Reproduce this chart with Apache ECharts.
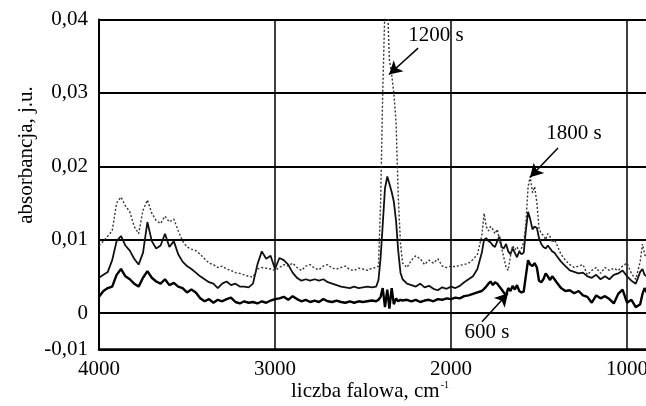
<!DOCTYPE html>
<html>
<head>
<meta charset="utf-8">
<script src="https://cdn.jsdelivr.net/npm/echarts@6/dist/echarts.min.js"></script>
<style>
  html, body { margin: 0; padding: 0; background: #fff; }
  #chart { width: 646px; height: 406px; }
</style>
</head>
<body>
<div id="chart"></div>
<script>
// Wavenumber grid (cm-1), shared by all three spectra
const wavenumbers = [
  4000, 3975, 3950, 3925, 3900, 3875, 3850, 3825, 3800, 3775,
  3750, 3725, 3700, 3675, 3650, 3625, 3600, 3575, 3550, 3525,
  3500, 3475, 3450, 3425, 3400, 3375, 3350, 3325, 3300, 3275,
  3250, 3225, 3200, 3175, 3150, 3125, 3100, 3075, 3050, 3025,
  3000, 2975, 2950, 2925, 2900, 2875, 2850, 2825, 2800, 2775,
  2750, 2725, 2700, 2675, 2650, 2625, 2600, 2575, 2550, 2525,
  2500, 2475, 2450, 2425, 2412, 2400, 2388, 2375, 2362, 2350,
  2337, 2325, 2312, 2300, 2287, 2275, 2250, 2225, 2200, 2175,
  2150, 2125, 2100, 2075, 2050, 2025, 2000, 1975, 1950, 1925,
  1900, 1875, 1850, 1825, 1812, 1800, 1787, 1775, 1762, 1750,
  1737, 1725, 1712, 1700, 1687, 1675, 1662, 1650, 1637, 1625,
  1612, 1600, 1587, 1575, 1562, 1550, 1537, 1525, 1512, 1500,
  1487, 1475, 1462, 1450, 1437, 1425, 1412, 1400, 1375, 1350,
  1325, 1300, 1275, 1250, 1225, 1200, 1175, 1150, 1125, 1100,
  1075, 1050, 1025, 1000, 975, 950, 925, 912, 900, 875, 850
];

// Absorbance after 600 s (lowest trace)
const abs600 = [
  0.0022, 0.0030, 0.0034, 0.0036, 0.0052, 0.0060, 0.0050, 0.0046, 0.0040, 0.0036,
  0.0048, 0.0057, 0.0048, 0.0043, 0.0040, 0.0046, 0.0038, 0.0041, 0.0036, 0.0034,
  0.0028, 0.0032, 0.0028, 0.0020, 0.0016, 0.0019, 0.0014, 0.0018, 0.0016, 0.0019,
  0.0021, 0.0015, 0.0013, 0.0016, 0.0014, 0.0015, 0.0013, 0.0016, 0.0014, 0.0017,
  0.0019, 0.0020, 0.0022, 0.0018, 0.0023, 0.0019, 0.0016, 0.0018, 0.0015, 0.0017,
  0.0015, 0.0019, 0.0016, 0.0015, 0.0017, 0.0015, 0.0014, 0.0016, 0.0014, 0.0016,
  0.0015, 0.0016, 0.0017, 0.0016, 0.0018, 0.0022, 0.0034, 0.0008, 0.0032, 0.0006,
  0.0034, 0.0012, 0.0020, 0.0016, 0.0018, 0.0017, 0.0018, 0.0016, 0.0018, 0.0015,
  0.0017, 0.0018, 0.0016, 0.0019, 0.0018, 0.0020, 0.0019, 0.0021, 0.0020, 0.0023,
  0.0024, 0.0026, 0.0028, 0.0030, 0.0033, 0.0036, 0.0040, 0.0043, 0.0038, 0.0042,
  0.0040, 0.0036, 0.0032, 0.0028, 0.0024, 0.0034, 0.0030, 0.0037, 0.0032, 0.0038,
  0.0030, 0.0028, 0.0029, 0.0050, 0.0072, 0.0066, 0.0064, 0.0068, 0.0062, 0.0044,
  0.0042, 0.0046, 0.0054, 0.0050, 0.0045, 0.0050, 0.0046, 0.0042, 0.0034, 0.0030,
  0.0031, 0.0027, 0.0030, 0.0024, 0.0022, 0.0014, 0.0024, 0.0020, 0.0023, 0.0019,
  0.0013, 0.0026, 0.0032, 0.0014, 0.0018, 0.0008, 0.0012, 0.0026, 0.0034, 0.0022, 0.0018
];

// Absorbance after 1200 s (dotted trace with the strong 2350 cm-1 band)
const abs1200 = [
  0.0092, 0.0098, 0.0105, 0.0112, 0.0150, 0.0158, 0.0146, 0.0138, 0.0118, 0.0108,
  0.0140, 0.0154, 0.0136, 0.0126, 0.0122, 0.0132, 0.0124, 0.0128, 0.0112, 0.0098,
  0.0090, 0.0087, 0.0085, 0.0080, 0.0074, 0.0068, 0.0066, 0.0062, 0.0064, 0.0060,
  0.0058, 0.0055, 0.0054, 0.0052, 0.0050, 0.0049, 0.0060, 0.0062, 0.0061, 0.0060,
  0.0058, 0.0062, 0.0066, 0.0064, 0.0068, 0.0062, 0.0058, 0.0064, 0.0066, 0.0061,
  0.0059, 0.0064, 0.0066, 0.0061, 0.0060, 0.0062, 0.0064, 0.0059, 0.0058, 0.0061,
  0.0060, 0.0058, 0.0061, 0.0062, 0.0064, 0.0150, 0.0300, 0.0420, 0.0430, 0.0345,
  0.0325, 0.0300, 0.0260, 0.0160, 0.0095, 0.0068, 0.0062, 0.0072, 0.0078, 0.0074,
  0.0066, 0.0072, 0.0068, 0.0074, 0.0064, 0.0062, 0.0064, 0.0063, 0.0065, 0.0066,
  0.0068, 0.0073, 0.0080, 0.0105, 0.0136, 0.0118, 0.0112, 0.0118, 0.0114, 0.0108,
  0.0114, 0.0100, 0.0088, 0.0076, 0.0062, 0.0058, 0.0078, 0.0092, 0.0086, 0.0090,
  0.0084, 0.0088, 0.0096, 0.0120, 0.0172, 0.0186, 0.0164, 0.0172, 0.0150, 0.0116,
  0.0108, 0.0106, 0.0100, 0.0108, 0.0104, 0.0096, 0.0100, 0.0094, 0.0080, 0.0072,
  0.0066, 0.0062, 0.0064, 0.0066, 0.0052, 0.0058, 0.0062, 0.0054, 0.0062, 0.0058,
  0.0061, 0.0058, 0.0064, 0.0068, 0.0054, 0.0046, 0.0070, 0.0094, 0.0080, 0.0070, 0.0066
];

// Absorbance after 1800 s (middle solid trace)
const abs1800 = [
  0.0048, 0.0052, 0.0056, 0.0072, 0.0098, 0.0105, 0.0092, 0.0085, 0.0074, 0.0066,
  0.0082, 0.0124, 0.0098, 0.0088, 0.0092, 0.0108, 0.0090, 0.0098, 0.0080, 0.0070,
  0.0064, 0.0060, 0.0055, 0.0050, 0.0046, 0.0042, 0.0040, 0.0034, 0.0040, 0.0043,
  0.0038, 0.0040, 0.0036, 0.0036, 0.0035, 0.0040, 0.0066, 0.0084, 0.0074, 0.0078,
  0.0060, 0.0075, 0.0072, 0.0066, 0.0055, 0.0048, 0.0044, 0.0046, 0.0044, 0.0046,
  0.0044, 0.0046, 0.0042, 0.0040, 0.0038, 0.0036, 0.0035, 0.0034, 0.0036, 0.0034,
  0.0035, 0.0036, 0.0035, 0.0036, 0.0045, 0.0075, 0.0120, 0.0170, 0.0186, 0.0176,
  0.0165, 0.0152, 0.0125, 0.0085, 0.0055, 0.0046, 0.0040, 0.0038, 0.0036, 0.0040,
  0.0035, 0.0037, 0.0033, 0.0031, 0.0035, 0.0033, 0.0036, 0.0034, 0.0037, 0.0042,
  0.0046, 0.0050, 0.0060, 0.0082, 0.0100, 0.0102, 0.0098, 0.0096, 0.0092, 0.0090,
  0.0098, 0.0104, 0.0090, 0.0088, 0.0094, 0.0084, 0.0080, 0.0088, 0.0082, 0.0076,
  0.0084, 0.0080, 0.0082, 0.0112, 0.0138, 0.0128, 0.0114, 0.0118, 0.0116, 0.0102,
  0.0094, 0.0090, 0.0088, 0.0092, 0.0088, 0.0084, 0.0082, 0.0078, 0.0070, 0.0064,
  0.0058, 0.0056, 0.0054, 0.0055, 0.0050, 0.0048, 0.0052, 0.0046, 0.0050, 0.0046,
  0.0052, 0.0054, 0.0058, 0.0050, 0.0044, 0.0040, 0.0056, 0.0060, 0.0052, 0.0048, 0.0046
];

// Axis ranges, tick positions and printed tick labels
const xMin = 892;
const xMax = 4000;
const xTickValues = [1000, 2000, 3000, 4000];
const yTickValues = [-0.005, 0, 0.01, 0.02, 0.03, 0.04];
const yTickLabels = ['-0,01', '0', '0,01', '0,02', '0,03', '0,04'];

// Annotations: label text, label anchor, arrow tail and arrow head (data coords)
const noteNames = ['1200 s', '1800 s', '600 s'];
const noteTextAt = [[2085, 0.0378], [1301, 0.0245], [1795, -0.0027]];
const noteArrowFrom = [[2187, 0.0361], [1392, 0.0225], [1824, -0.0012]];
const noteArrowTo = [[2352, 0.0325], [1551, 0.0185], [1676, 0.0027]];

const FONT = '"Liberation Serif", "Times New Roman", "DejaVu Serif", serif';

function pairs(values) {
  return wavenumbers.map((w, i) => [w, values[i]]);
}

const chart = echarts.init(document.getElementById('chart'), null, { renderer: 'canvas' });

const option = {
  animation: false,
  backgroundColor: '#ffffff',
  grid: {
    left: 99,
    top: 19.5,
    bottom: 56.3,
    right: 0,
    containLabel: false,
    outerBoundsMode: 'none',
    show: false
  },
  xAxis: {
    type: 'value',
    inverse: true,
    min: xMin,
    max: xMax,
    axisLine: { show: true, onZero: false, lineStyle: { color: '#000', width: 2.5 } },
    axisTick: { show: false, customValues: xTickValues },
    axisLabel: {
      customValues: xTickValues,
      margin: 9,
      color: '#000',
      fontFamily: FONT,
      fontSize: 21,
      showMinLabel: true,
      showMaxLabel: true,
      hideOverlap: false,
      formatter: function (v) { return String(Math.round(v)); }
    },
    splitLine: { show: true, lineStyle: { color: '#000', width: 1.5 } }
  },
  yAxis: {
    type: 'value',
    min: -0.005,
    max: 0.04,
    axisLine: { show: true, onZero: false, lineStyle: { color: '#000', width: 2 } },
    axisTick: { show: false, customValues: yTickValues },
    axisLabel: {
      customValues: yTickValues,
      margin: 11,
      color: '#000',
      fontFamily: FONT,
      fontSize: 21,
      formatter: function (v) {
        const i = yTickValues.findIndex(t => Math.abs(t - v) < 1e-9);
        return i >= 0 ? yTickLabels[i] : '';
      }
    },
    splitLine: { show: true, lineStyle: { color: '#000', width: 2 } }
  },
  graphic: [
    {
      type: 'text',
      x: 370,
      y: 391,
      style: {
        text: '{a|liczba falowa, cm}{b|-1}',
        align: 'center',
        verticalAlign: 'middle',
        fill: '#000',
        rich: {
          a: { fontFamily: FONT, fontSize: 21, fill: '#000' },
          b: { fontFamily: FONT, fontSize: 10, fill: '#000', verticalAlign: 'top', padding: [0, 0, 10, 1] }
        }
      }
    },
    {
      type: 'text',
      x: 26,
      y: 155,
      rotation: Math.PI / 2,
      style: {
        text: 'absorbancja, j.u.',
        align: 'center',
        verticalAlign: 'middle',
        fill: '#000',
        fontFamily: FONT,
        fontSize: 21
      }
    }
  ],
  series: [
    {
      name: '1800 s',
      type: 'line',
      data: pairs(abs1800),
      showSymbol: false,
      symbol: 'none',
      lineStyle: { color: '#111', width: 1.8 },
      z: 3
    },
    {
      name: '1200 s',
      type: 'line',
      data: pairs(abs1200),
      showSymbol: false,
      symbol: 'none',
      lineStyle: { color: '#333', width: 1.4, type: [2, 2] },
      z: 4
    },
    {
      name: '600 s',
      type: 'line',
      data: pairs(abs600),
      showSymbol: false,
      symbol: 'none',
      lineStyle: { color: '#000', width: 2.4 },
      z: 5,
      markLine: {
        silent: true,
        symbol: ['none', 'arrow'],
        symbolSize: [11, 13],
        label: { show: false },
        lineStyle: { color: '#000', width: 1.5, type: 'solid' },
        data: noteArrowFrom.map((p, i) => [{ coord: p }, { coord: noteArrowTo[i] }])
      },
      markPoint: {
        silent: true,
        symbol: 'circle',
        symbolSize: 0,
        label: {
          show: true,
          position: 'inside',
          color: '#000',
          fontFamily: FONT,
          fontSize: 21
        },
        data: noteTextAt.map((p, i) => ({
          coord: p,
          label: { formatter: noteNames[i] }
        }))
      }
    }
  ]
};

chart.setOption(option);
</script>
</body>
</html>
